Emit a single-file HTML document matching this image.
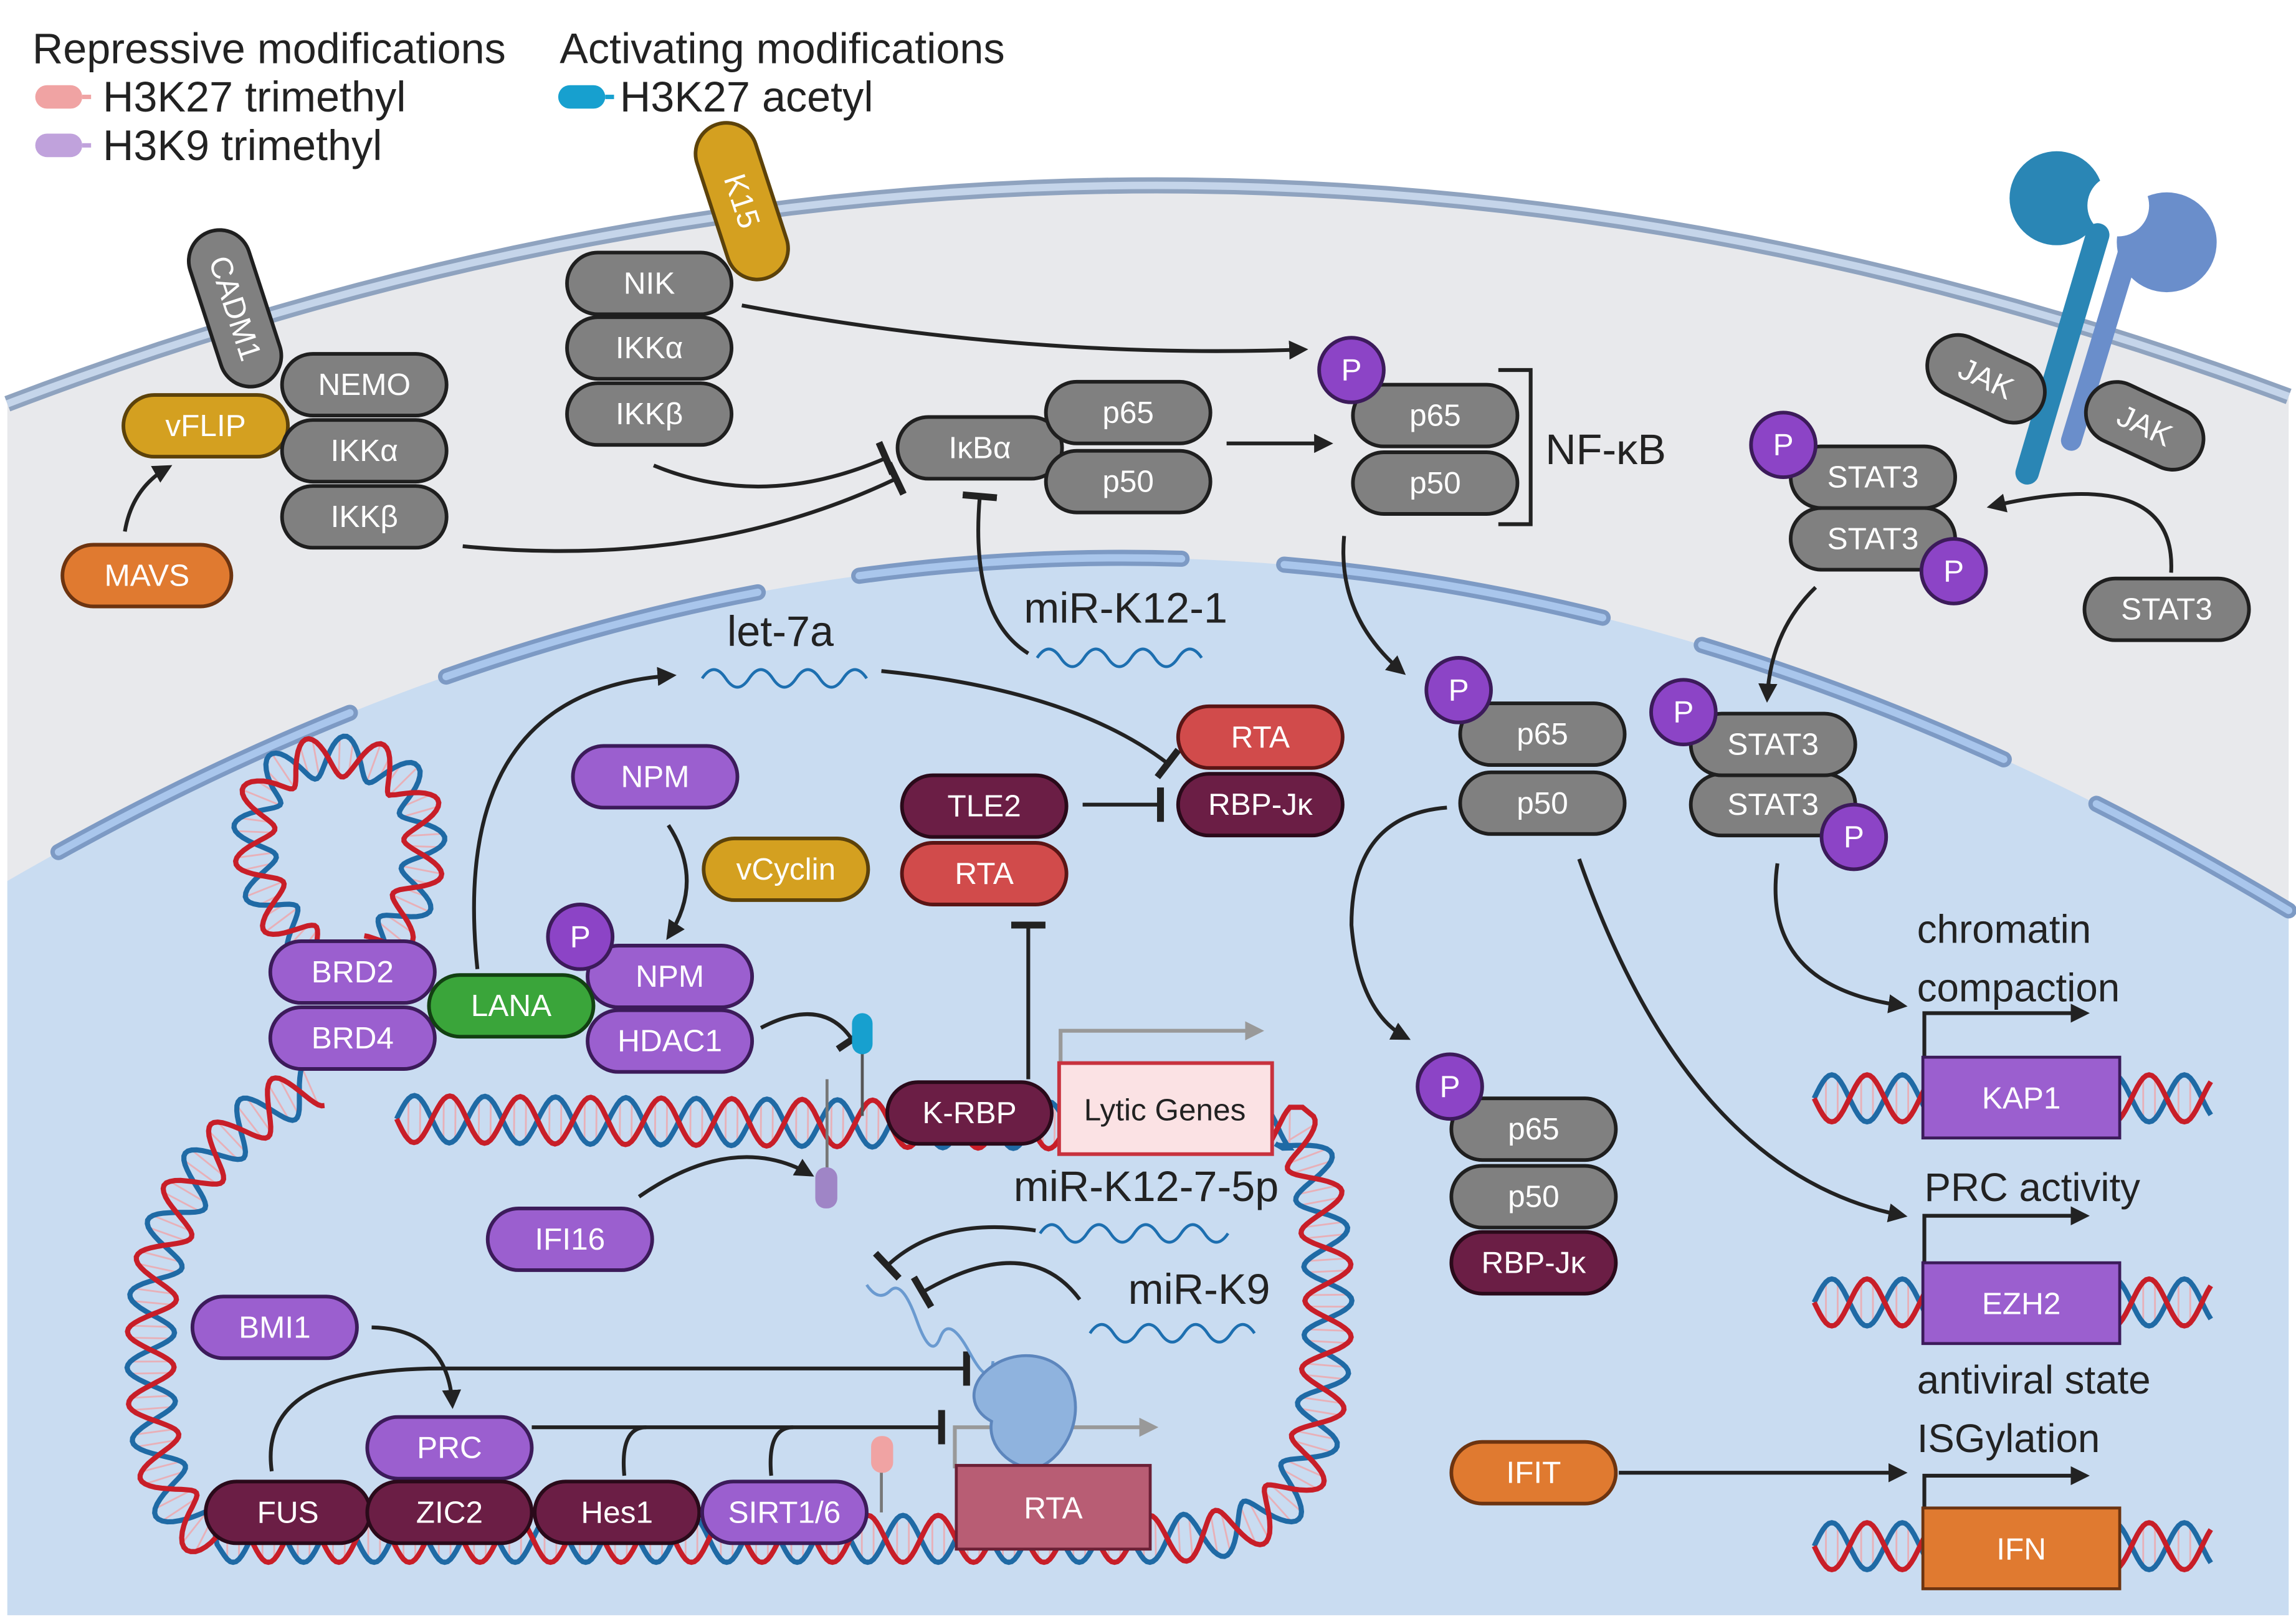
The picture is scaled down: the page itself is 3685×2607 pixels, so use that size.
<!DOCTYPE html>
<html><head><meta charset="utf-8"><style>
html,body{margin:0;padding:0;background:#fff}
svg{display:block}
text{font-family:"Liberation Sans",sans-serif}
.pl text{fill:#fff;font-size:21px;text-anchor:middle;dominant-baseline:central}
.ln{fill:none;stroke:#222;stroke-width:2.6}
.lbl{font-size:29px;fill:#222}
</style></head><body>
<svg id="s" width="3685" height="2607" viewBox="0 0 1563 1106" preserveAspectRatio="none" xmlns="http://www.w3.org/2000/svg">
<defs>
<marker id="ar" viewBox="0 0 10 10" refX="8" refY="5" markerWidth="5" markerHeight="5" orient="auto"><path d="M0,0L10,5L0,10z" fill="#222"/></marker>
<marker id="ag" viewBox="0 0 10 10" refX="8" refY="5" markerWidth="5" markerHeight="5" orient="auto"><path d="M0,0L10,5L0,10z" fill="#999"/></marker>
<marker id="tb" viewBox="0 0 4 20" refX="2" refY="10" markerWidth="2" markerHeight="9" orient="auto"><rect x="0" y="0" width="4" height="20" fill="#222"/></marker>
</defs>
<rect width="1563" height="1106" fill="#fff"/>
<!-- receptor heads (behind membrane) -->
<circle cx="1400" cy="135" r="32" fill="#2a86b5"/>
<circle cx="1475" cy="165" r="34" fill="#6a8ecb"/>
<circle cx="1442" cy="140" r="21" fill="#fff"/>
<!-- cell -->
<path d="M5,275 Q780,-20 1558,270 L1558,1100 L5,1100Z" fill="#e8e9ec"/>
<path d="M5,275 Q780,-20 1558,270" fill="none" stroke="#8fa3bf" stroke-width="11"/>
<path d="M5,275 Q780,-20 1558,270" fill="none" stroke="#c5d5ea" stroke-width="5"/>
<!-- nucleus -->
<path d="M5,600 Q780,150 1558,620 L1558,1100 L5,1100Z" fill="#c9dcf1"/>
<path d="M5,600 Q780,150 1558,620" fill="none" stroke="#7d9ac4" stroke-width="11" stroke-dasharray="220,70" stroke-dashoffset="-40" stroke-linecap="round"/>
<path d="M5,600 Q780,150 1558,620" fill="none" stroke="#a9c6ec" stroke-width="5" stroke-dasharray="220,70" stroke-dashoffset="-40" stroke-linecap="round"/>
<!-- receptor stems -->
<path d="M1380,322 L1428,160" stroke="#2a86b5" stroke-width="16" stroke-linecap="round"/>
<path d="M1410,300 L1450,168" stroke="#6a8ecb" stroke-width="14" stroke-linecap="round"/>
<!-- legend -->
<text x="22" y="43" class="lbl">Repressive modifications</text>
<text x="381" y="43" class="lbl">Activating modifications</text>
<text x="70" y="76" class="lbl">H3K27 trimethyl</text>
<text x="70" y="109" class="lbl">H3K9 trimethyl</text>
<text x="422" y="76" class="lbl">H3K27 acetyl</text>
<rect x="24" y="58" width="32" height="16" rx="8" fill="#f0a3a3"/><line x1="56" y1="66" x2="62" y2="66" stroke="#f0a3a3" stroke-width="3"/>
<rect x="24" y="91" width="32" height="16" rx="8" fill="#c0a2dc"/><line x1="56" y1="99" x2="62" y2="99" stroke="#c0a2dc" stroke-width="3"/>
<rect x="380" y="58" width="32" height="16" rx="8" fill="#17a0cf"/><line x1="412" y1="66" x2="418" y2="66" stroke="#17a0cf" stroke-width="3"/>
<g id="dna"></g>
<!-- arrows -->
<g class="ln">
<path d="M85,362 Q90,332 115,318" marker-end="url(#ar)"/>
<path d="M505,208 Q700,245 888,238" marker-end="url(#ar)"/>
<path d="M315,372 Q480,388 610,326" marker-end="url(#tb)"/>
<path d="M445,317 Q520,348 603,312" marker-end="url(#tb)"/>
<path d="M835,302 L905,302" marker-end="url(#ar)"/>
<path d="M700,445 Q660,420 667,338" marker-end="url(#tb)"/>
<path d="M915,365 Q910,420 955,458" marker-end="url(#ar)"/>
<path d="M985,550 Q920,555 920,630 Q925,690 958,707" marker-end="url(#ar)"/>
<path d="M1075,585 Q1150,800 1296,828" marker-end="url(#ar)"/>
<path d="M1236,400 Q1205,430 1203,476" marker-end="url(#ar)"/>
<path d="M1478,390 Q1482,315 1355,345" marker-end="url(#ar)"/>
<path d="M1210,588 Q1198,672 1296,685" marker-end="url(#ar)"/>
<path d="M1102,1003 L1296,1003" marker-end="url(#ar)"/>
<path d="M325,660 Q305,470 458,460" marker-end="url(#ar)"/>
<path d="M600,457 Q730,470 795,520" marker-end="url(#tb)"/>
<path d="M737,548 L790,548" marker-end="url(#tb)"/>
<path d="M700,735 L700,630" marker-end="url(#tb)"/>
<path d="M455,562 Q480,600 455,638" marker-end="url(#ar)"/>
<path d="M518,700 Q560,678 580,708" marker-end="url(#tb)"/>
<path d="M435,815 Q500,770 552,800" marker-end="url(#ar)"/>
<path d="M705,838 Q640,828 604,862" marker-end="url(#tb)"/>
<path d="M735,885 Q700,838 628,880" marker-end="url(#tb)"/>
<path d="M253,904 Q305,905 308,957" marker-end="url(#ar)"/>
<path d="M185,1002 Q175,932 300,932 L658,932" marker-end="url(#tb)"/>
<path d="M362,972 L641,972" marker-end="url(#tb)"/>
<path d="M425,1005 Q422,972 440,972 M525,1005 Q522,972 540,972"/>
</g>
<path d="M722,735 L722,702 L858,702" fill="none" stroke="#999" stroke-width="2.6" marker-end="url(#ag)"/>
<path d="M650,1000 L650,972 L786,972" fill="none" stroke="#999" stroke-width="2.6" marker-end="url(#ag)"/>
<!-- NF-kB bracket -->
<path d="M1020,252 L1042,252 L1042,357 L1020,357" fill="none" stroke="#222" stroke-width="2.6"/>
<text x="1052" y="316" class="lbl">NF-κB</text>
<!-- mirna -->
<g fill="none" stroke="#1d6fb0" stroke-width="2">
<path d="M478,462 q8,-12 16,0 t16,0 t16,0 t16,0 t16,0 t16,0 t16,0"/>
<path d="M706,448 q8,-12 16,0 t16,0 t16,0 t16,0 t16,0 t16,0 t16,0"/>
<path d="M708,840 q8,-12 16,0 t16,0 t16,0 t16,0 t16,0 t16,0 t16,0 t16,0"/>
<path d="M742,908 q8,-12 16,0 t16,0 t16,0 t16,0 t16,0 t16,0 t16,0"/>
<path d="M590,875 q8,12 16,4 t18,20 t16,12 t20,10 t16,6" stroke="#6a9ad0"/>
</g>
<text x="495" y="440" class="lbl">let-7a</text>
<text x="697" y="424" class="lbl">miR-K12-1</text>
<text x="690" y="818" class="lbl">miR-K12-7-5p</text>
<text x="768" y="888" class="lbl">miR-K9</text>
<!-- ribosome -->
<path d="M670,935 C690,915 725,922 730,945 C738,970 722,995 705,1000 C688,1000 672,985 675,968 C660,960 660,945 670,935Z" fill="#8fb3de" stroke="#5d86bd" stroke-width="2"/>
<!-- histone marks -->
<line x1="587" y1="715" x2="587" y2="760" stroke="#555" stroke-width="2"/>
<rect x="580" y="690" width="14" height="28" rx="7" fill="#17a0cf"/>
<line x1="563" y1="735" x2="563" y2="800" stroke="#777" stroke-width="2"/>
<rect x="555" y="795" width="15" height="28" rx="7" fill="#9f85c6"/>
<line x1="600" y1="1000" x2="600" y2="1030" stroke="#777" stroke-width="2"/>
<rect x="593" y="978" width="15" height="25" rx="7" fill="#f0a3a3"/>
<!-- boxes -->
<rect x="721" y="724" width="145" height="62" fill="#fbe2e4" stroke="#c8323e" stroke-width="2.5"/>
<text x="793" y="763" font-size="21" text-anchor="middle" fill="#222">Lytic Genes</text>
<rect x="651" y="998" width="132" height="57" fill="#b85d74" stroke="#6b2036" stroke-width="2"/>
<text x="717" y="1034" font-size="21" text-anchor="middle" fill="#fff">RTA</text>
<g font-size="27" fill="#222">
<text x="1305" y="642">chromatin</text><text x="1305" y="682">compaction</text>
<text x="1310" y="818">PRC activity</text>
<text x="1305" y="949">antiviral state</text><text x="1305" y="989">ISGylation</text>
</g>
<g stroke="#222" stroke-width="2.6" fill="none">
<path d="M1310,720 L1310,690 L1420,690" marker-end="url(#ar)"/>
<path d="M1310,860 L1310,828 L1420,828" marker-end="url(#ar)"/>
<path d="M1310,1028 L1310,1005 L1420,1005" marker-end="url(#ar)"/>
</g>
<rect x="1309" y="720" width="134" height="55" fill="#9b5fcf" stroke="#3c1b5a" stroke-width="2"/>
<text x="1376" y="755" font-size="21" text-anchor="middle" fill="#fff">KAP1</text>
<rect x="1309" y="860" width="134" height="55" fill="#9b5fcf" stroke="#3c1b5a" stroke-width="2"/>
<text x="1376" y="895" font-size="21" text-anchor="middle" fill="#fff">EZH2</text>
<rect x="1309" y="1027" width="134" height="55" fill="#e07a30" stroke="#6d3410" stroke-width="2"/>
<text x="1376" y="1062" font-size="21" text-anchor="middle" fill="#fff">IFN</text>
<g id="pills" class="pl"></g>
</svg>
<script>
var NS="http://www.w3.org/2000/svg",s=document.getElementById('s');
var C={g:["#808080","#1f1f1f"],p:["#9b5fcf","#3c1b5a"],m:["#6b1e45","#2a0a1a"],r:["#d14b4b","#5a1515"],o:["#e07a30","#6d3410"],y:["#d4a020","#5c420a"],gr:["#3aa53a","#124012"]};
function pill(t,x,y,w,c,rot,h){h=h||42;var g=document.createElementNS(NS,'g');g.setAttribute('transform','translate('+x+','+y+')'+(rot?' rotate('+rot+')':''));
var r=document.createElementNS(NS,'rect');r.setAttribute('x',-w/2);r.setAttribute('y',-h/2);r.setAttribute('width',w);r.setAttribute('height',h);r.setAttribute('rx',h/2);r.setAttribute('fill',C[c][0]);r.setAttribute('stroke',C[c][1]);r.setAttribute('stroke-width',2.5);g.appendChild(r);
var tx=document.createElementNS(NS,'text');tx.textContent=t;g.appendChild(tx);document.getElementById('pills').appendChild(g);}
function P(x,y){var g=document.createElementNS(NS,'g');var c=document.createElementNS(NS,'circle');c.setAttribute('cx',x);c.setAttribute('cy',y);c.setAttribute('r',22);c.setAttribute('fill','#8c44c6');c.setAttribute('stroke','#3c1b5a');c.setAttribute('stroke-width',2.5);g.appendChild(c);var t=document.createElementNS(NS,'text');t.setAttribute('x',x);t.setAttribute('y',y);t.textContent='P';g.appendChild(t);document.getElementById('pills').appendChild(g);}
pill('CADM1',160,210,110,'g',72);pill('K15',505,137,110,'y',72);
pill('vFLIP',140,290,112,'y');pill('NEMO',248,262,112,'g');pill('IKKα',248,307,112,'g');pill('IKKβ',248,352,112,'g');
pill('MAVS',100,392,115,'o');
pill('NIK',442,193,112,'g');pill('IKKα',442,237,112,'g');pill('IKKβ',442,282,112,'g');
pill('IκBα',667,305,112,'g');pill('p65',768,281,112,'g');pill('p50',768,328,112,'g');
pill('p65',977,283,112,'g');pill('p50',977,329,112,'g');P(920,252);
pill('JAK',1352,258,84,'g',25);pill('JAK',1460,290,84,'g',25);
pill('STAT3',1275,367,112,'g');pill('STAT3',1275,325,112,'g');P(1214,303);P(1330,389);
pill('STAT3',1475,415,112,'g');
pill('p65',1050,500,112,'g');pill('p50',1050,547,112,'g');P(993,470);
pill('STAT3',1207,548,112,'g');pill('STAT3',1207,507,112,'g');P(1146,485);P(1262,570);
pill('RTA',858,502,112,'r');pill('RBP-Jκ',858,548,112,'m');
pill('TLE2',670,549,112,'m');pill('RTA',670,595,112,'r');
pill('NPM',446,529,112,'p');pill('vCyclin',535,592,112,'y');
pill('NPM',456,665,112,'p');pill('HDAC1',456,709,112,'p');P(395,638);
pill('BRD2',240,662,112,'p');pill('BRD4',240,707,112,'p');pill('LANA',348,685,112,'gr');
pill('K-RBP',660,758,112,'m');pill('IFI16',388,844,112,'p');pill('BMI1',187,904,112,'p');
pill('PRC',306,986,112,'p');pill('FUS',196,1030,112,'m');pill('ZIC2',306,1030,112,'m');pill('Hes1',420,1030,112,'m');pill('SIRT1/6',534,1030,112,'p');
pill('p65',1044,769,112,'g');pill('p50',1044,815,112,'g');pill('RBP-Jκ',1044,860,112,'m');P(987,740);
pill('IFIT',1044,1003,112,'o');
function helix(d,A,lam){var p=document.createElementNS(NS,'path');p.setAttribute('d',d);s.appendChild(p);var L=p.getTotalLength();s.removeChild(p);
var a='',b='',rg='';for(var l=0;l<=L;l+=2){var q=p.getPointAtLength(l),q2=p.getPointAtLength(Math.min(L,l+1)),q1=p.getPointAtLength(Math.max(0,l-1));var dx=q2.x-q1.x,dy=q2.y-q1.y,n=Math.hypot(dx,dy)||1;var nx=-dy/n,ny=dx/n,o=A*Math.sin(2*Math.PI*l/lam);
a+=(l?'L':'M')+(q.x+nx*o).toFixed(1)+','+(q.y+ny*o).toFixed(1);b+=(l?'L':'M')+(q.x-nx*o).toFixed(1)+','+(q.y-ny*o).toFixed(1);
if(l%8==0)rg+='M'+(q.x+nx*o).toFixed(1)+','+(q.y+ny*o).toFixed(1)+'L'+(q.x-nx*o).toFixed(1)+','+(q.y-ny*o).toFixed(1);}
var g=document.getElementById('dna');[[rg,'#e8b0b8',1.2],[b,'#1f6aa5',3.5],[a,'#c81e28',3.5]].forEach(function(z){var e=document.createElementNS(NS,'path');e.setAttribute('d',z[0]);e.setAttribute('fill','none');e.setAttribute('stroke',z[1]);e.setAttribute('stroke-width',z[2]);g.appendChild(e);});}
helix('M270,762 L880,768 C905,800 912,900 895,980 C880,1040 840,1048 780,1048 L150,1048 C110,1040 100,980 103,900 C106,820 150,765 215,738',16,48);
helix('M215,648 C170,620 165,560 182,535 C200,510 250,508 275,532 C300,560 290,620 255,648',14,44);
helix('M1235,748 L1505,748',16,48);helix('M1235,887 L1505,887',16,48);helix('M1235,1053 L1505,1053',16,48);
</script>
</body></html>
